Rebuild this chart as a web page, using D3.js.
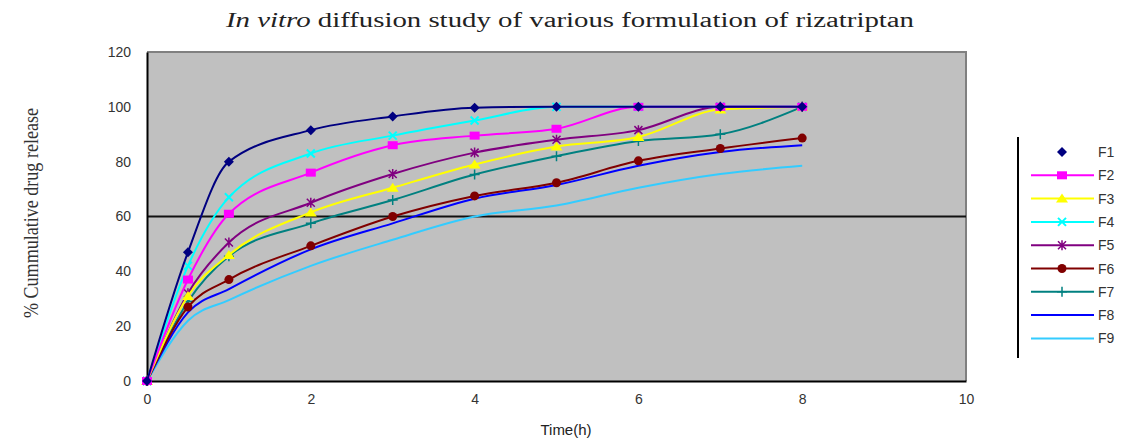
<!DOCTYPE html>
<html>
<head>
<meta charset="utf-8">
<script src="https://cdn.jsdelivr.net/npm/d3@7"></script>
<style>
  body { margin: 0; background: #fff; }
  svg { display: block; }
</style>
</head>
<body>
<script>
var w = 1138, h = 439;
var plot = { left: 147, right: 966, top: 52, bottom: 381 };

// sampling times (h)
var times = [0, 0.5, 1, 2, 3, 4, 5, 6, 7, 8];
var names = ['F1', 'F2', 'F3', 'F4', 'F5', 'F6', 'F7', 'F8', 'F9'];
// % cumulative drug release
var f1 = [0, 47, 80, 91.5, 96.5, 99.7, 100, 100, 100, 100];
var f2 = [0, 37, 61, 76, 86, 89.5, 92, 100, 100, 100];
var f3 = [0, 31, 46, 61.5, 70.5, 79, 85.5, 89, 99, 100];
var f4 = [0, 42, 67, 83, 89.5, 95, 100, 100, 100, 100];
var f5 = [0, 32, 50.5, 65, 75.5, 83.3, 88, 91.5, 100, 100];
var f6 = [0, 27, 37, 49.3, 60, 67.5, 72.3, 80.3, 84.8, 88.6];
var f7 = [0, 29, 45.5, 57.5, 66, 75.3, 82, 87.5, 90, 100];
var f8 = [0, 25, 33.5, 48, 57.5, 66.5, 71.5, 78.5, 83.5, 86];
var f9 = [0, 22, 29.5, 42, 51.5, 60, 64, 70.5, 75.5, 78.5];
var colors = ['#000080', '#ff00ff', '#ffff00', '#00ffff', '#800080', '#800000', '#008080', '#0000ff', '#33ccff'];
var shapes = ['diamond', 'square', 'triangle', 'x', 'star', 'circle', 'plus', 'none', 'none'];
var xTicks = [0, 2, 4, 6, 8, 10];
var yTicks = [0, 20, 40, 60, 80, 100, 120];

var series = [f1, f2, f3, f4, f5, f6, f7, f8, f9].map(function (vals, i) {
  return { name: names[i], color: colors[i], shape: shapes[i],
    pts: vals.map(function (v, j) { return { t: times[j], v: v }; }) };
});

var serif = "'Liberation Serif', 'Times New Roman', serif";
var sans = "'Liberation Sans', Arial, sans-serif";

var svg = d3.select('body').append('svg').attr('width', w).attr('height', h);

var x = d3.scaleLinear().domain([0, 10]).range([plot.left, plot.right]);
var y = d3.scaleLinear().domain([0, 120]).range([plot.bottom, plot.top]);

// title
var title = svg.append('text')
  .attr('x', 570).attr('y', 27)
  .attr('text-anchor', 'middle')
  .attr('textLength', 688).attr('lengthAdjust', 'spacingAndGlyphs')
  .style('font-family', serif).style('font-size', '20px')
  .style('fill', '#222');
title.append('tspan').style('font-style', 'italic').text('In vitro');
title.append('tspan').text(' diffusion study of various formulation of rizatriptan');

// plot background
svg.append('rect')
  .attr('x', plot.left).attr('y', plot.top)
  .attr('width', plot.right - plot.left).attr('height', plot.bottom - plot.top)
  .style('fill', '#c0c0c0');
// grey top / right border
svg.append('path')
  .attr('d', 'M' + plot.left + ',' + plot.top + 'H' + plot.right + 'V' + plot.bottom)
  .style('fill', 'none').style('stroke', '#808080').style('stroke-width', 2);

// gridline at 60
svg.append('line')
  .attr('x1', plot.left).attr('x2', plot.right)
  .attr('y1', y(60)).attr('y2', y(60))
  .style('stroke', '#111').style('stroke-width', 2);

// axes
var xAxis = svg.append('g')
  .attr('transform', 'translate(0,' + plot.bottom + ')')
  .call(d3.axisBottom(x).tickValues(xTicks).tickSize(0).tickPadding(13));
var yAxis = svg.append('g')
  .attr('transform', 'translate(' + plot.left + ',0)')
  .call(d3.axisLeft(y).tickValues(yTicks).tickSize(0).tickPadding(16));
[xAxis, yAxis].forEach(function (g) {
  g.select('.domain').style('stroke', '#000').style('stroke-width', 2);
  g.selectAll('text')
    .style('font-family', sans).style('font-size', '14px')
    .style('fill', '#333');
});

// axis titles
svg.append('text')
  .attr('x', 566).attr('y', 435)
  .attr('text-anchor', 'middle')
  .style('font-family', sans).style('font-size', '15px')
  .style('fill', '#222')
  .text('Time(h)');
svg.append('text')
  .attr('transform', 'translate(38,213) rotate(-90)')
  .attr('text-anchor', 'middle')
  .attr('textLength', 210).attr('lengthAdjust', 'spacingAndGlyphs')
  .style('font-family', serif).style('font-size', '21px')
  .style('fill', '#333')
  .text('% Cummulative drug release');

function drawMarker(g, shape, color, cx, cy) {
  var s = 5;
  if (shape === 'diamond') {
    g.append('path').attr('d', 'M' + cx + ',' + (cy - s) + 'L' + (cx + s) + ',' + cy + 'L' + cx + ',' + (cy + s) + 'L' + (cx - s) + ',' + cy + 'Z')
      .style('fill', color);
  } else if (shape === 'square') {
    g.append('rect').attr('x', cx - 5).attr('y', cy - 4).attr('width', 10).attr('height', 8).style('fill', color);
  } else if (shape === 'triangle') {
    g.append('path').attr('d', 'M' + cx + ',' + (cy - s) + 'L' + (cx + s + 1) + ',' + (cy + s - 1) + 'L' + (cx - s - 1) + ',' + (cy + s - 1) + 'Z')
      .style('fill', color);
  } else if (shape === 'x') {
    g.append('path').attr('d', 'M' + (cx - 4) + ',' + (cy - 4) + 'L' + (cx + 4) + ',' + (cy + 4) + 'M' + (cx - 4) + ',' + (cy + 4) + 'L' + (cx + 4) + ',' + (cy - 4))
      .style('stroke', color).style('stroke-width', 2);
  } else if (shape === 'star') {
    g.append('path').attr('d', 'M' + (cx - 4) + ',' + (cy - 4) + 'L' + (cx + 4) + ',' + (cy + 4) + 'M' + (cx - 4) + ',' + (cy + 4) + 'L' + (cx + 4) + ',' + (cy - 4) + 'M' + cx + ',' + (cy - 5) + 'V' + (cy + 5))
      .style('stroke', color).style('stroke-width', 1.5);
  } else if (shape === 'circle') {
    g.append('circle').attr('cx', cx).attr('cy', cy).attr('r', 4.5).style('fill', color);
  } else if (shape === 'plus') {
    g.append('path').attr('d', 'M' + (cx - 5) + ',' + cy + 'H' + (cx + 5) + 'M' + cx + ',' + (cy - 5) + 'V' + (cy + 5))
      .style('stroke', color).style('stroke-width', 1.5);
  }
}

var line = d3.line()
  .x(function (d) { return x(d.t); })
  .y(function (d) { return y(d.v); })
  .curve(d3.curveMonotoneX);

// draw last series first so F1 sits on top
series.slice().reverse().forEach(function (s) {
  var g = svg.append('g');
  g.append('path')
    .datum(s.pts)
    .attr('d', line)
    .style('fill', 'none').style('stroke', s.color).style('stroke-width', 2);
  s.pts.forEach(function (p) {
    drawMarker(g, s.shape, s.color, x(p.t), y(p.v));
  });
});

// legend
var legend = svg.append('g');
legend.append('line')
  .attr('x1', 1018).attr('x2', 1018).attr('y1', 137).attr('y2', 358)
  .style('stroke', '#000').style('stroke-width', 2);
series.forEach(function (s, i) {
  var ly = 152 + i * 23.3;
  if (i > 0) {
    legend.append('line')
      .attr('x1', 1031).attr('x2', 1094).attr('y1', ly).attr('y2', ly)
      .style('stroke', s.color).style('stroke-width', 2);
  }
  drawMarker(legend, s.shape, s.color, 1062, ly);
  legend.append('text')
    .attr('x', 1098).attr('y', ly + 5)
    .style('font-family', sans).style('font-size', '14px')
    .style('fill', '#333')
    .text(s.name);
});
</script>
</body>
</html>
